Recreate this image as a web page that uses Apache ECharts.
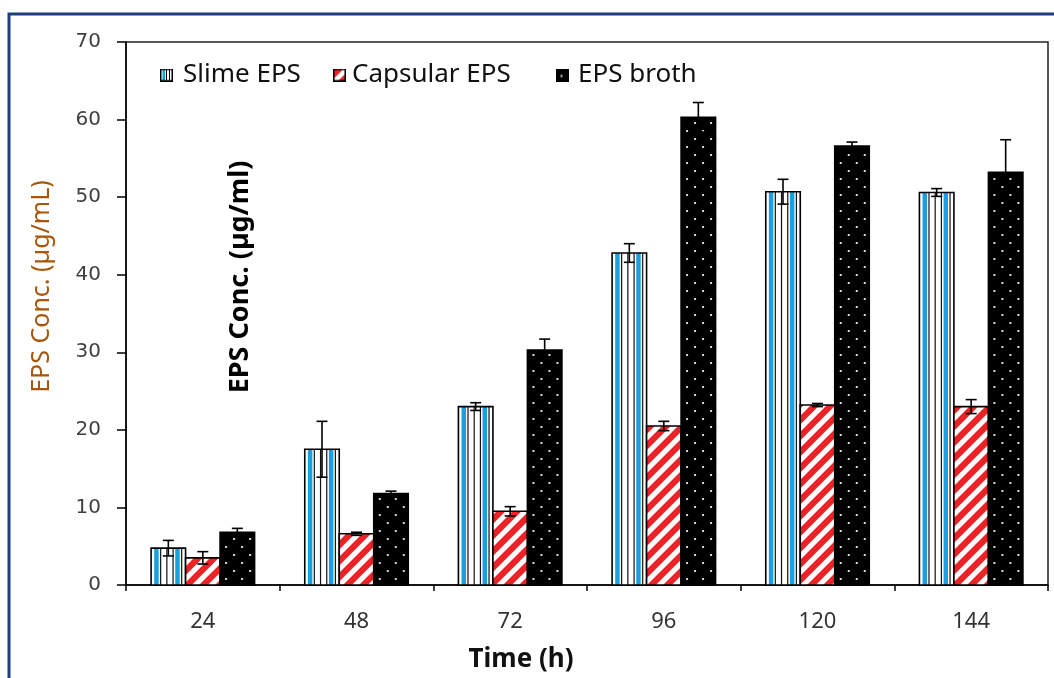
<!DOCTYPE html>
<html><head><meta charset="utf-8">
<script src="https://cdn.jsdelivr.net/npm/echarts@6/dist/echarts.min.js"></script>
<style>html,body{margin:0;padding:0;background:#fff}#c{width:1054px;height:678px}</style>
</head><body><div id="c"></div>
<script>
// ---- data ----
const categories = ['24', '48', '72', '96', '120', '144'];
const seriesNames = ['Slime EPS', 'Capsular EPS', 'EPS broth'];
const slimeEPS = [4.75, 17.5, 23.0, 42.8, 50.7, 50.6];
const slimeErr = [1.0, 3.6, 0.5, 1.2, 1.6, 0.5];
const capsularEPS = [3.5, 6.6, 9.5, 20.5, 23.2, 23.0];
const capsularErr = [0.8, 0.2, 0.6, 0.6, 0.2, 0.9];
const brothEPS = [6.8, 11.8, 30.3, 60.3, 56.6, 53.2];
const brothErr = [0.5, 0.3, 1.4, 1.9, 0.5, 4.2];
const yTicks = { min: 0, max: 70, interval: 10 };

const BLUE = '#1a9fe3', RED = '#ec2227';

function clip(poly, a, b, c) {
  const out = [], n = poly.length;
  for (let i = 0; i < n; i++) {
    const cur = poly[i], prev = poly[(i + n - 1) % n];
    const fc = a * cur[0] + b * cur[1] - c, fp = a * prev[0] + b * prev[1] - c;
    const inter = () => { const t = fp / (fp - fc); return [prev[0] + t * (cur[0] - prev[0]), prev[1] + t * (cur[1] - prev[1])]; };
    if (fc <= 0) { if (fp > 0) out.push(inter()); out.push(cur); }
    else if (fp <= 0) out.push(inter());
  }
  return out;
}

function makeRender(kind, pos) {
  return function (params, api) {
    const i = api.value(0), v = api.value(1), e = api.value(2);
    const base = api.coord([i, 0]), top = api.coord([i, v]);
    const band = api.size([1, 0])[0];
    const bw = band * 0.2245;
    const cx = base[0] + (pos - 1) * bw;
    const x0 = cx - bw / 2, x1 = cx + bw / 2, y0 = top[1], y1 = base[1];
    const h = y1 - y0;
    const ch = [];
    if (kind === 0) {
      ch.push({ type: 'rect', shape: { x: x0, y: y0, width: bw, height: h }, style: { fill: '#fff' } });
      [[0.09, 0.22], [0.7, 0.83]].forEach(f => ch.push({ type: 'rect', shape: { x: x0 + f[0] * bw, y: y0, width: (f[1] - f[0]) * bw, height: h }, style: { fill: BLUE } }));
      [0.26, 0.44, 0.62, 0.87].forEach(f => ch.push({ type: 'rect', shape: { x: x0 + f * bw, y: y0, width: 1.2, height: h }, style: { fill: '#111' } }));
      ch.push({ type: 'rect', shape: { x: x0, y: y0, width: bw, height: h }, style: { fill: 'none', stroke: '#000', lineWidth: 1.6 } });
    } else if (kind === 1) {
      ch.push({ type: 'rect', shape: { x: x0, y: y0, width: bw, height: h }, style: { fill: '#fff' } });
      const P = 16;
      const rect = [[x0, y0], [x1, y0], [x1, y1], [x0, y1]];
      const smin = x0 + y0, smax = x1 + y1;
      for (let k = Math.floor(smin / P) - 1; k * P <= smax; k++) {
        let p = clip(rect, -1, -1, -k * P);
        p = clip(p, 1, 1, k * P + P * 0.55);
        if (p.length >= 3) ch.push({ type: 'polygon', shape: { points: p }, style: { fill: RED } });
      }
      ch.push({ type: 'rect', shape: { x: x0, y: y0, width: bw, height: h }, style: { fill: 'none', stroke: '#000', lineWidth: 1.6 } });
    } else {
      ch.push({ type: 'rect', shape: { x: x0, y: y0, width: bw, height: h }, style: { fill: '#000', stroke: '#000', lineWidth: 1.6 } });
      let row = 0;
      for (let yy = y1 - 6; yy > y0 + 4; yy -= 8, row++) {
        const off = row % 2 ? 14 : 6;
        for (let xx = x0 + off; xx < x1 - 3; xx += 16) {
          ch.push({ type: 'rect', shape: { x: xx - 1, y: yy - 1, width: 2, height: 2 }, style: { fill: '#d8d8d8' } });
        }
      }
    }
    // error bar
    const eTop = api.coord([i, v + e])[1], eBot = api.coord([i, v - e])[1];
    const cap = 5.5;
    const ls = { stroke: '#000', lineWidth: 1.6 };
    ch.push({ type: 'line', shape: { x1: cx, y1: eTop, x2: cx, y2: eBot }, style: ls });
    ch.push({ type: 'line', shape: { x1: cx - cap, y1: eTop, x2: cx + cap, y2: eTop }, style: ls });
    ch.push({ type: 'line', shape: { x1: cx - cap, y1: eBot, x2: cx + cap, y2: eBot }, style: ls });
    return { type: 'group', children: ch };
  };
}

function icon(kind) {
  const c = document.createElement('canvas');
  c.width = 26; c.height = 26;
  const g = c.getContext('2d');
  if (kind === 0) {
    g.fillStyle = '#fff'; g.fillRect(0, 0, 26, 26);
    g.fillStyle = BLUE; g.fillRect(5, 0, 5, 26);
    g.fillStyle = '#000'; g.fillRect(12, 0, 2, 26); g.fillRect(18, 0, 2, 26);
  } else if (kind === 1) {
    g.fillStyle = '#fff'; g.fillRect(0, 0, 26, 26);
    g.fillStyle = RED; g.beginPath(); g.moveTo(0, 0); g.lineTo(22, 0); g.lineTo(0, 22); g.closePath(); g.fill();
    g.beginPath(); g.moveTo(26, 9); g.lineTo(26, 26); g.lineTo(9, 26); g.closePath(); g.fill();
  } else {
    g.fillStyle = '#000'; g.fillRect(0, 0, 26, 26);
    g.fillStyle = '#ddd'; g.fillRect(9, 13, 4, 4);
  }
  g.strokeStyle = '#000'; g.lineWidth = 3; g.strokeRect(1.5, 1.5, 23, 23);
  return 'image://' + c.toDataURL();
}

const allVals = [slimeEPS, capsularEPS, brothEPS];
const allErrs = [slimeErr, capsularErr, brothErr];
const legendLeft = [160, 333, 556];
const legendPad = [5, 1, 4];

const chart = echarts.init(document.getElementById('c'), null, { renderer: 'canvas' });
chart.setOption({
  animation: false,
  backgroundColor: '#fff',
  grid: { left: 126, right: 6, top: 42, bottom: 89, show: true, borderColor: '#222', borderWidth: 1.5 },
  legend: seriesNames.map((n, k) => ({
    left: legendLeft[k], top: 62, padding: 0, itemWidth: 13, itemHeight: 13,
    data: [{ name: n, icon: icon(k) }],
    textStyle: { fontFamily: 'Noto Sans', fontSize: 26, color: '#111', padding: [0, 0, 0, legendPad[k]] }
  })),
  xAxis: {
    type: 'category', data: categories,
    axisLine: { lineStyle: { color: '#000', width: 1.5 } },
    axisTick: { show: true, length: 6, alignWithLabel: false, lineStyle: { color: '#000', width: 1.5 } },
    axisLabel: { fontFamily: 'Noto Sans', fontSize: 22, color: '#333', margin: 26 },
    name: 'Time (h)', nameLocation: 'middle', nameGap: 62,
    nameTextStyle: { fontFamily: 'Noto Sans', fontSize: 26, fontWeight: 'bold', color: '#111', padding: [0, 132, 0, 0] }
  },
  yAxis: {
    type: 'value', min: yTicks.min, max: yTicks.max, interval: yTicks.interval,
    axisLine: { show: true, lineStyle: { color: '#000', width: 1.5 } },
    axisTick: { show: true, length: 9, lineStyle: { color: '#000', width: 1.5 } },
    splitLine: { show: false },
    axisLabel: { fontFamily: 'DejaVu Sans', fontSize: 20, color: '#404040', margin: 25 },
    name: 'EPS Conc. (µg/mL)', nameLocation: 'middle', nameGap: 72,
    nameTextStyle: { fontFamily: 'Noto Sans', fontSize: 25, color: '#a8560a', padding: [0, 0, 0, 54] }
  },
  graphic: [
    { type: 'rect', silent: true, z: 100, shape: { x: 9, y: 14, width: 1200, height: 800 }, style: { fill: 'none', stroke: '#1f3f7c', lineWidth: 3 } },
    { type: 'text', silent: true, z: 100, x: 240, y: 277, rotation: Math.PI / 2,
      style: { text: 'EPS Conc. (µg/ml)', fontFamily: 'Noto Sans', fontSize: 27, fontWeight: 'bold', fill: '#000', align: 'center', verticalAlign: 'middle' } }
  ],
  series: seriesNames.map((n, k) => ({
    name: n, type: 'custom',
    encode: { x: 0, y: 1 },
    data: categories.map((c, i) => [i, allVals[k][i], allErrs[k][i]]),
    renderItem: makeRender(k, k)
  }))
});
</script></body></html>
